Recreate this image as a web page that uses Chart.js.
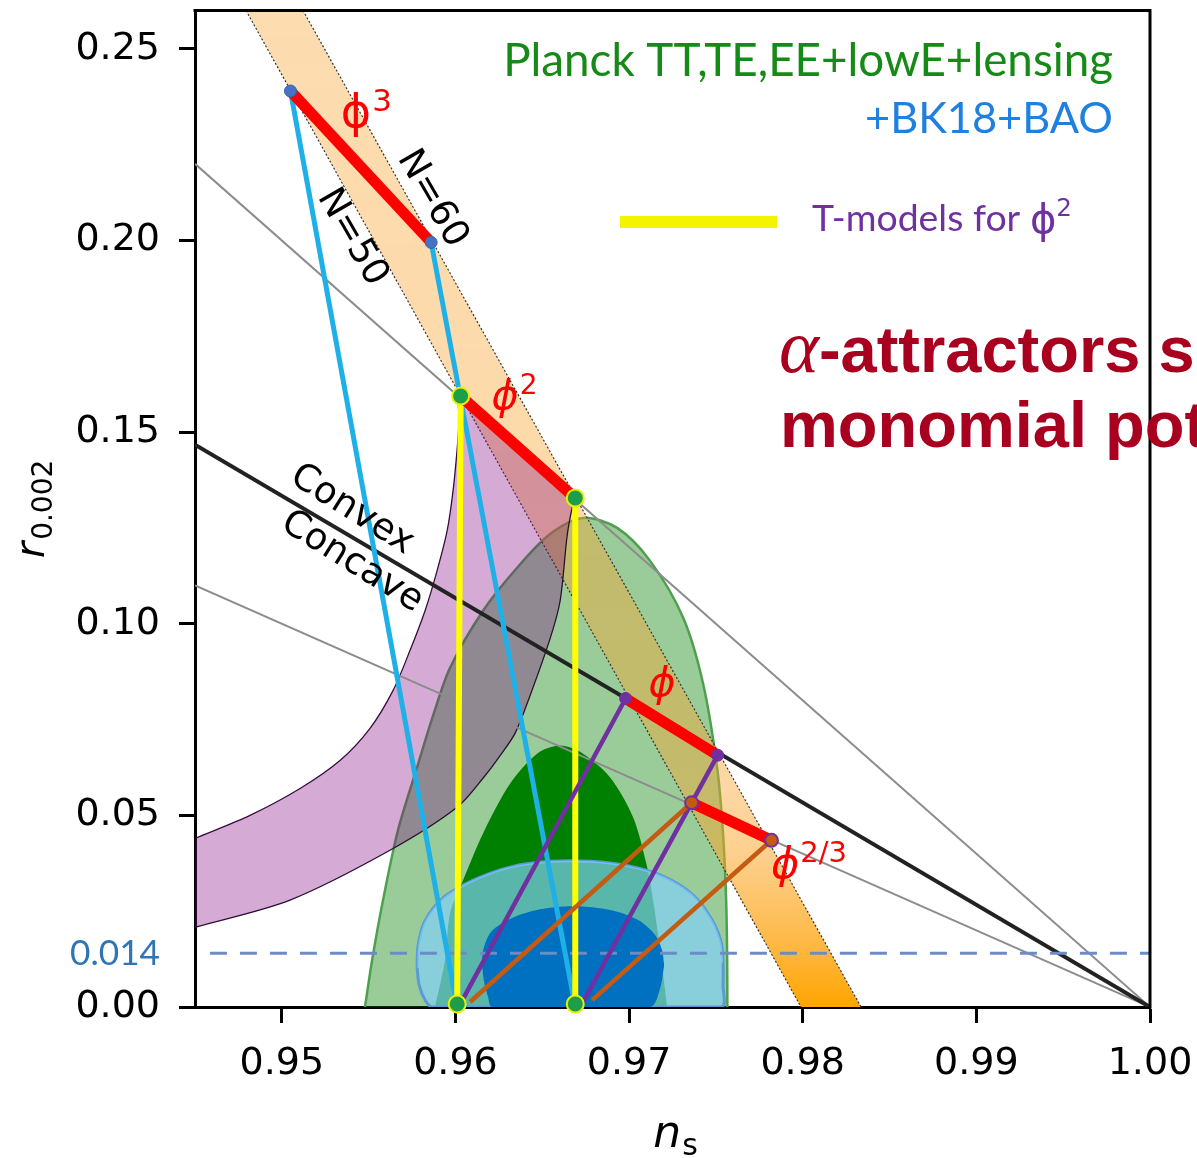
<!DOCTYPE html>
<html>
<head>
<meta charset="utf-8">
<title>alpha-attractors vs monomial potentials</title>
<script src="https://cdn.jsdelivr.net/npm/chart.js@4.4.1/dist/chart.umd.min.js"></script>
<style>
html,body{margin:0;padding:0;background:#ffffff;overflow:hidden;}
canvas{display:block;}
</style>
</head>
<body>
<canvas id="chart" width="1197" height="1158"></canvas>
<script>
// ---------- axes ----------
const xTicks = [0.95, 0.96, 0.97, 0.98, 0.99, 1.00];
const yTicks = [0.00, 0.05, 0.10, 0.15, 0.20, 0.25];
const xLimits = [0.945, 1.0];
const yLimits = [0, 0.26];

// ---------- Planck TT,TE,EE+lowE+lensing (upper edges, cut at r = 0) ----------
const planck95 = [[0.95479,0],[0.9552,0.0122],[0.95583,0.0279],[0.95669,0.0461],[0.95779,0.0625],[0.95871,0.0760],
  [0.95969,0.0885],[0.96159,0.1034],[0.96355,0.1146],[0.96545,0.1234],[0.96735,0.1276],[0.96931,0.1250],
  [0.97121,0.1164],[0.97311,0.1016],[0.97426,0.0844],[0.97507,0.0625],[0.97541,0.0453],[0.97559,0.0279],
  [0.97565,0.0122],[0.97566,0]];
const planck68 = [[0.95882,0],[0.9594,0.0122],[0.95969,0.0245],[0.96044,0.0331],[0.96159,0.0453],[0.96315,0.0583],
  [0.9647,0.0661],[0.96603,0.0682],[0.96735,0.0661],[0.96891,0.0599],[0.97023,0.0495],[0.97104,0.0365],
  [0.97138,0.0279],[0.97179,0.0148],[0.97219,0]];
// ---------- +BK18+BAO (upper arc / lower arc, lower arc cut at r = 0) ----------
const bk95Upper = [[0.95779,0.0102],[0.95785,0.0161],[0.95825,0.0225],[0.95935,0.0287],[0.96113,0.0333],
  [0.96315,0.0365],[0.96545,0.0380],[0.96775,0.0380],[0.97006,0.0367],[0.97207,0.0339],[0.97369,0.0292],
  [0.97478,0.0227],[0.9753,0.0169],[0.97542,0.0117]];
const bk95Lower = [[0.95779,0.0102],[0.95791,0.0057],[0.95825,0.0018],[0.95865,0],[0.9753,0],[0.97541,0.0057],[0.97542,0.0117]];
const bk68Upper = [[0.96153,0.0109],[0.96159,0.0148],[0.96205,0.0196],[0.96326,0.0232],[0.96487,0.0255],
  [0.96689,0.0263],[0.96891,0.0253],[0.97052,0.0227],[0.9715,0.0188],[0.9719,0.0148],[0.97202,0.0109]];
const bk68Lower = [[0.96153,0.0109],[0.96165,0.0065],[0.96188,0.0026],[0.96211,0],[0.97121,0],[0.97179,0.0049],[0.97202,0.0109]];

// ---------- N = 50 / N = 60 band edges ----------
const bandN50 = [[0.94794,0.26],[0.9799,0]];
const bandN60 = [[0.95122,0.26],[0.98336,0]];

// ---------- monomial predictions (N=50, N=60) ----------
const phi3  = [[0.9505,0.2390],[0.9586,0.1995]];
const phi2  = [[0.9603,0.1594],[0.9669,0.1328]];
const phi1  = [[0.9698,0.0805],[0.9751,0.0657]];
const phi23 = [[0.9736,0.0533],[0.9782,0.0435]];
const tBase = [[0.9601,0.0008],[0.9669,0.0008]];

// ---------- purple band edges ----------
const purpleUpper = [[0.945,0.0440],[0.94817,0.0500],[0.95105,0.0570],[0.95335,0.0643],[0.95508,0.0727],
  [0.95641,0.0826],[0.95738,0.0930],[0.95825,0.1034],[0.95894,0.1138],[0.95952,0.1242],[0.95986,0.1346],
  [0.96009,0.1451],[0.96021,0.1529]];
const purpleLower = [[0.945,0.0208],[0.95047,0.0279],[0.95623,0.0409],[0.96009,0.0521],[0.96171,0.0604],
  [0.96257,0.0656],[0.96343,0.0714],[0.9643,0.0813],[0.96545,0.0961],[0.96603,0.1060],[0.96643,0.1229],
  [0.96672,0.1302]];

// ---------- straight reference lines ----------
const lineR4     = [[0.945,0.2200],[1.0,0]];
const lineConvex = [[0.945,0.1467],[1.0,0]];
const lineR2     = [[0.945,0.1100],[1.0,0]];
const lineR014   = [[0.94586,0.014],[1.0,0.014]];

// ---------- tracks ----------
const cyanN50   = [phi3[0],[0.9601,0]];
const cyanN60   = [phi3[1],[0.9669,0]];
const yellowL   = [phi2[0],tBase[0]];
const yellowR   = [phi2[1],tBase[1]];
const purpleL   = [[0.9604,0.0018],phi1[0]];
const purpleR   = [[0.96735,0.0013],phi1[1]];
const brownL    = [[0.96084,0.0013],phi23[0]];
const brownR    = [[0.96787,0.0018],phi23[1]];

// ---------- helpers ----------
const toXY = a => a.map(([x,y]) => ({x, y}));
function lineDS(data, color, width, extra) {
  return Object.assign({type:'line', data: toXY(data), borderColor: color, borderWidth: width,
    pointRadius: 0, pointHoverRadius: 0, fill: false, tension: 0,
    borderCapStyle: 'butt', borderJoinStyle: 'round'}, extra || {});
}
function ptsDS(data, fill, stroke, r, bw) {
  return {type:'line', data: toXY(data), showLine: false, pointRadius: r, pointHoverRadius: r,
    pointBackgroundColor: fill, pointBorderColor: stroke, pointBorderWidth: bw, clip: false};
}
function bandGradient(context) {
  const chart = context.chart, ca = chart.chartArea;
  if (!ca) return 'rgba(249,164,48,0.4)';
  const ys = chart.scales.y;
  const g = chart.ctx.createLinearGradient(0, ys.getPixelForValue(yLimits[1]), 0, ys.getPixelForValue(0));
  g.addColorStop(0, 'rgba(249,164,48,0.38)');
  g.addColorStop(0.78, 'rgba(249,164,48,0.44)');
  g.addColorStop(0.85, 'rgba(251,166,40,0.54)');
  g.addColorStop(0.92, 'rgba(253,166,24,0.74)');
  g.addColorStop(1, 'rgba(255,165,0,1)');
  return g;
}
const NONE = 'rgba(0,0,0,0)';

// datasets listed bottom -> top
const datasets = [
  lineDS(planck95, '#4ea04e', 2.5, {fill:'origin', backgroundColor:'rgba(0,128,0,0.40)', tension:0.3}),
  lineDS(planck68, NONE, 0, {fill:'origin', backgroundColor:'#008000', tension:0.3}),
  lineDS(bk95Upper, '#5b9bd5', 3, {tension:0.3}),
  lineDS(bk95Lower, '#5b9bd5', 3, {tension:0.3, fill:'-1', backgroundColor:'rgba(130,208,250,0.68)'}),
  lineDS(bk68Upper, NONE, 0, {tension:0.3}),
  lineDS(bk68Lower, NONE, 0, {tension:0.3, fill:'-1', backgroundColor:'#0070c0'}),
  lineDS([...bandN50, bandN60[1]], NONE, 0),
  lineDS([bandN50[0], ...bandN60], NONE, 0, {fill:'-1', backgroundColor: bandGradient}),
  lineDS(bandN50, '#333', 1.2, {borderDash:[2,2]}),
  lineDS(bandN60, '#333', 1.2, {borderDash:[2,2]}),
  lineDS([...purpleUpper, ...phi2], '#2a1030', 1.3, {tension:0.3}),
  lineDS([...purpleLower, phi2[1]], '#2a1030', 1.3, {tension:0.3, fill:'-1', backgroundColor:'rgba(128,0,128,0.33)'}),
  lineDS(lineR4, '#8c8c8c', 2),
  lineDS(lineR2, '#8c8c8c', 2),
  lineDS(lineConvex, '#222222', 4),
  lineDS(lineR014, '#6b8cc7', 3, {borderDash:[17,13]}),
  lineDS(cyanN50, '#1fb0e8', 5),
  lineDS(cyanN60, '#1fb0e8', 5),
  lineDS(yellowL, '#ffff00', 6),
  lineDS(yellowR, '#ffff00', 6),
  lineDS(purpleL, '#7030a0', 4.5),
  lineDS(purpleR, '#7030a0', 4.5),
  lineDS(brownL, '#c55a11', 4.5),
  lineDS(brownR, '#c55a11', 4.5),
  lineDS(phi3, '#ff0000', 11),
  lineDS(phi2, '#ff0000', 11),
  lineDS(phi1, '#ff0000', 11),
  lineDS(phi23, '#ff0000', 11),
  ptsDS(phi3, '#4472c4', '#3b62aa', 6, 1),
  ptsDS([...phi2, ...tBase], '#1e9e4a', '#e8f000', 8.5, 2),
  ptsDS(phi1, '#7030a0', '#7030a0', 6, 1),
  ptsDS(phi23, '#c55a11', '#7030a0', 6.5, 2)
];
datasets.forEach((d, i) => { d.order = -i; });

// ---------- annotation text ----------
const phiLabels = [
  {x:0.95427, y:0.2328, sup:'3',   size:46, italic:false},
  {x:0.96286, y:0.1589, sup:'2',   size:41, italic:true},
  {x:0.9719,  y:0.0839, sup:'',    size:41, italic:true},
  {x:0.97899, y:0.0367, sup:'2/3', size:43, italic:true}
];
const rotLabels = [
  {text:'N=60',    x:0.95865, y:0.2109, rot:60},
  {text:'N=50',    x:0.95404, y:0.2008, rot:60},
  {text:'Convex',  x:0.95404, y:0.1297, rot:32},
  {text:'Concave', x:0.95404, y:0.1161, rot:32}
];

function fitSize(ctx, text, fontFn, targetW) {
  ctx.font = fontFn(100);
  return 100 * targetW / ctx.measureText(text).width;
}

const annotPlugin = {
  id: 'annot',
  afterDatasetsDraw(chart) {
    const ctx = chart.ctx, xs = chart.scales.x, ys = chart.scales.y, ca = chart.chartArea;
    ctx.save();
    // frame (top / right)
    ctx.strokeStyle = '#000'; ctx.lineWidth = 3;
    ctx.beginPath();
    ctx.moveTo(ca.left - 1.5, ca.top); ctx.lineTo(ca.right, ca.top); ctx.lineTo(ca.right, ca.bottom + 1.5);
    ctx.stroke();

    // phi labels
    for (const L of phiLabels) {
      const px = xs.getPixelForValue(L.x), py = ys.getPixelForValue(L.y);
      ctx.fillStyle = '#ff0000';
      ctx.font = (L.italic ? 'italic ' : '') + L.size + 'px "DejaVu Sans"';
      ctx.textAlign = 'center'; ctx.textBaseline = 'middle';
      ctx.fillText('\u03D5', px, py);
      const w = ctx.measureText('\u03D5').width;
      if (L.sup) {
        ctx.font = Math.round(L.size * 0.68) + 'px "DejaVu Sans"';
        ctx.textAlign = 'left'; ctx.textBaseline = 'alphabetic';
        ctx.fillText(L.sup, px + w / 2 + 1, py - 4);
      }
    }
    // rotated labels
    ctx.fillStyle = '#000';
    ctx.font = '37px "DejaVu Sans"';
    for (const L of rotLabels) {
      const px = xs.getPixelForValue(L.x), py = ys.getPixelForValue(L.y);
      ctx.save(); ctx.translate(px, py); ctx.rotate(L.rot * Math.PI / 180);
      ctx.textAlign = 'center'; ctx.textBaseline = 'middle';
      ctx.fillText(L.text, 0, 0);
      ctx.restore();
    }
    // 0.014 label
    const p014 = ys.getPixelForValue(lineR014[0][1]);
    let s = fitSize(ctx, '0.014', n => n + 'px Lato', 90);
    ctx.font = s + 'px Lato'; ctx.fillStyle = '#2e75b6';
    ctx.textAlign = 'right'; ctx.textBaseline = 'middle';
    ctx.fillText('0.014', 160, p014);

    // data-set legend texts
    const fam = n => n + 'px Lato, "DejaVu Sans"';
    ctx.textAlign = 'right'; ctx.textBaseline = 'alphabetic';
    s = fitSize(ctx, 'Planck TT,TE,EE+lowE+lensing', fam, 610);
    ctx.font = fam(s);
    ctx.fillStyle = '#168a16';
    ctx.fillText('Planck TT,TE,EE+lowE+lensing', 1113, 76);
    s = fitSize(ctx, '+BK18+BAO', fam, 248);
    ctx.font = fam(s);
    ctx.fillStyle = '#1f80e0';
    ctx.fillText('+BK18+BAO', 1113, 133);

    // T-models legend
    ctx.fillStyle = '#f4f400';
    ctx.fillRect(620, 216, 157, 12);
    ctx.font = fam(100);
    const wT0 = ctx.measureText('T-models for ').width;
    ctx.font = '107px "DejaVu Sans"';
    const wP0 = ctx.measureText('\u03D5').width;
    ctx.font = '66px "DejaVu Sans"';
    const w20 = ctx.measureText('2').width;
    const k = 260 / (wT0 + wP0 + w20);
    ctx.fillStyle = '#7030a0'; ctx.textAlign = 'left';
    ctx.font = fam(100 * k);
    ctx.fillText('T-models for ', 812, 231);
    ctx.font = (107 * k) + 'px "DejaVu Sans"';
    ctx.fillText('\u03D5', 812 + wT0 * k, 233);
    ctx.font = (66 * k) + 'px "DejaVu Sans"';
    ctx.fillText('2', 812 + (wT0 + wP0) * k, 216);

    // big title (partially cut at right edge)
    ctx.fillStyle = '#a8001e';
    ctx.font = 'italic 76px "Liberation Serif"';
    ctx.fillText('\u03B1', 779, 372);
    const wa = ctx.measureText('\u03B1').width;
    ctx.font = 'bold 65px "Liberation Sans"';
    ctx.fillText('-attractors s', 779 + wa, 372);
    ctx.fillText('monomial pot', 780, 447);

    // axis titles
    ctx.fillStyle = '#000';
    ctx.font = 'italic 44px "DejaVu Sans"';
    const wn = ctx.measureText('n').width;
    ctx.font = '30px "DejaVu Sans"';
    const ws = ctx.measureText('s').width;
    const x0 = 675 - (wn + ws) / 2;
    ctx.textAlign = 'left'; ctx.textBaseline = 'alphabetic';
    ctx.font = 'italic 44px "DejaVu Sans"'; ctx.fillText('n', x0, 1147);
    ctx.font = '30px "DejaVu Sans"'; ctx.fillText('s', x0 + wn + 1, 1155);
    ctx.save();
    ctx.translate(44, 510); ctx.rotate(-Math.PI / 2);
    ctx.font = 'italic 40px "DejaVu Sans"';
    const wr = ctx.measureText('r').width;
    ctx.font = '28px "DejaVu Sans"';
    const wsub = ctx.measureText('0.002').width;
    const y0 = -(wr + wsub) / 2;
    ctx.font = 'italic 40px "DejaVu Sans"'; ctx.fillText('r', y0, 0);
    ctx.font = '28px "DejaVu Sans"'; ctx.fillText('0.002', y0 + wr + 2, 8);
    ctx.restore();

    ctx.restore();
  }
};

const tickFont = {family: '"DejaVu Sans"', size: 38};
new Chart(document.getElementById('chart').getContext('2d'), {
  type: 'line',
  data: {datasets},
  options: {
    responsive: false, animation: false, devicePixelRatio: 1, events: [],
    layout: {padding: {left: 0, top: 8, right: 47, bottom: 0}},
    plugins: {legend: {display: false}, tooltip: {enabled: false}, filler: {propagate: false}},
    scales: {
      x: {
        type: 'linear', min: xLimits[0], max: xLimits[1], bounds: 'data',
        afterBuildTicks: s => { s.ticks = xTicks.map(v => ({value: v})); },
        afterFit: s => { s.height = 151; s.paddingLeft = 0; s.paddingRight = 0; },
        ticks: {callback: v => Number(v).toFixed(2), color: '#000', font: tickFont, padding: 18, maxRotation: 0, autoSkip: false},
        grid: {display: true, drawOnChartArea: false, drawTicks: true, tickLength: 16, tickWidth: 3, color: '#000', tickColor: '#000'},
        border: {display: true, color: '#000', width: 3}
      },
      y: {
        type: 'linear', min: yLimits[0], max: yLimits[1], bounds: 'data',
        afterBuildTicks: s => { s.ticks = yTicks.map(v => ({value: v})); },
        afterFit: s => { s.width = 195; s.paddingTop = 0; s.paddingBottom = 0; },
        ticks: {callback: v => Number(v).toFixed(2), color: '#000', font: tickFont, padding: 19, autoSkip: false},
        grid: {display: true, drawOnChartArea: false, drawTicks: true, tickLength: 16, tickWidth: 3, color: '#000', tickColor: '#000'},
        border: {display: true, color: '#000', width: 3}
      }
    }
  },
  plugins: [annotPlugin]
});
</script>
</body>
</html>
